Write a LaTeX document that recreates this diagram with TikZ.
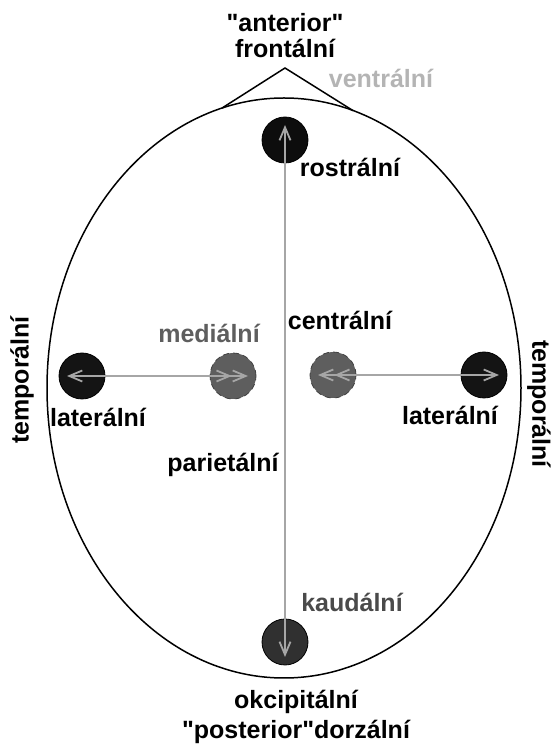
\documentclass[tikz,border=0pt]{standalone}
\usepackage{fontspec}
\setmainfont{Liberation Sans}
\usetikzlibrary{arrows.meta, positioning}

\definecolor{axisgray}{HTML}{A6A6A6}
\definecolor{ventgray}{HTML}{B4B4B4}
\definecolor{medgray}{HTML}{5E5E5E}
\definecolor{kaudgray}{HTML}{4A4A4A}
\definecolor{lowdot}{HTML}{303030}

\begin{document}
\begin{tikzpicture}[
    x=0.5pt, y=0.5pt,
    lbl/.style={font=\fontsize{12.5}{14}\selectfont\bfseries, inner sep=0pt},
    dot/.style={
        circle, draw=black, line width=0.4pt,
        minimum size=23pt, inner sep=0pt
    },
    innerdot/.style={dot, fill=medgray, draw=black!75, densely dashed},
    axis/.style={
        draw=axisgray, line width=0.9pt,
        shorten <=-7.5pt, shorten >=-7.5pt
    },
    barb/.tip={Straight Barb[length=6.5pt, width=5.5pt]}
]
\useasboundingbox (0,0) rectangle (552,745);

% Head outline and nose
\coordinate (head) at (284,357);
\draw[line width=0.75pt] (head) ellipse [x radius=237, y radius=290];
\coordinate (nose) at (285,677);
\path (head) ++(105.2:237 and 290) coordinate (noseL);
\path (head) ++(73.1:237 and 290)  coordinate (noseR);
\draw[line width=0.75pt] (noseL) -- (nose) -- (noseR);

% Dots
\node[dot, fill=black!95]  (rostr) at (285,605) {};
\node[dot, fill=lowdot]    (kaud)  at (285,103) {};
\node[dot, fill=black!92]  (latL)  at (82,369)  {};
\node[innerdot]            (medL)  at (233,369) {};
\node[innerdot]            (medR)  at (333,370) {};
\node[dot, fill=black!92]  (latR)  at (484,370) {};

% Axes
\draw[axis, {barb}-{barb}] (kaud.center) -- (rostr.center);
\draw[axis, {barb}-{barb[]barb}] (latL.center) -- (medL.center);
\draw[axis, {barb[]barb}-{barb}] (medR.center) -- (latR.center);

% Labels
\node[lbl] (anterior) at (285,722) {\textquotedbl anterior\textquotedbl};
\node[lbl, below=3pt of anterior] (front) {frontální};
\node[lbl, text=ventgray] (vent) at (381,667) {ventrální};
\node[lbl] (rostrlbl) at (350,578) {rostrální};
\node[lbl, text=medgray] (medlbl) at (209,412) {mediální};
\node[lbl] (centlbl) at (340,425) {centrální};
\node[lbl] (latLlbl) at (98,328)  {laterální};
\node[lbl] (latRlbl) at (450,330) {laterální};
\node[lbl, rotate=90]  (tempL) at (22,365)  {temporální};
\node[lbl, rotate=-90] (tempR) at (539,341) {temporální};
\node[lbl] (parlbl) at (223,280) {parietální};
\node[lbl, text=kaudgray] (kaudlbl) at (352,143) {kaudální};
\node[lbl] (okc) at (296,43) {okcipitální};
\node[lbl, below=3pt of okc] (post) {\textquotedbl posterior\textquotedbl dorzální};

\end{tikzpicture}
\end{document}
